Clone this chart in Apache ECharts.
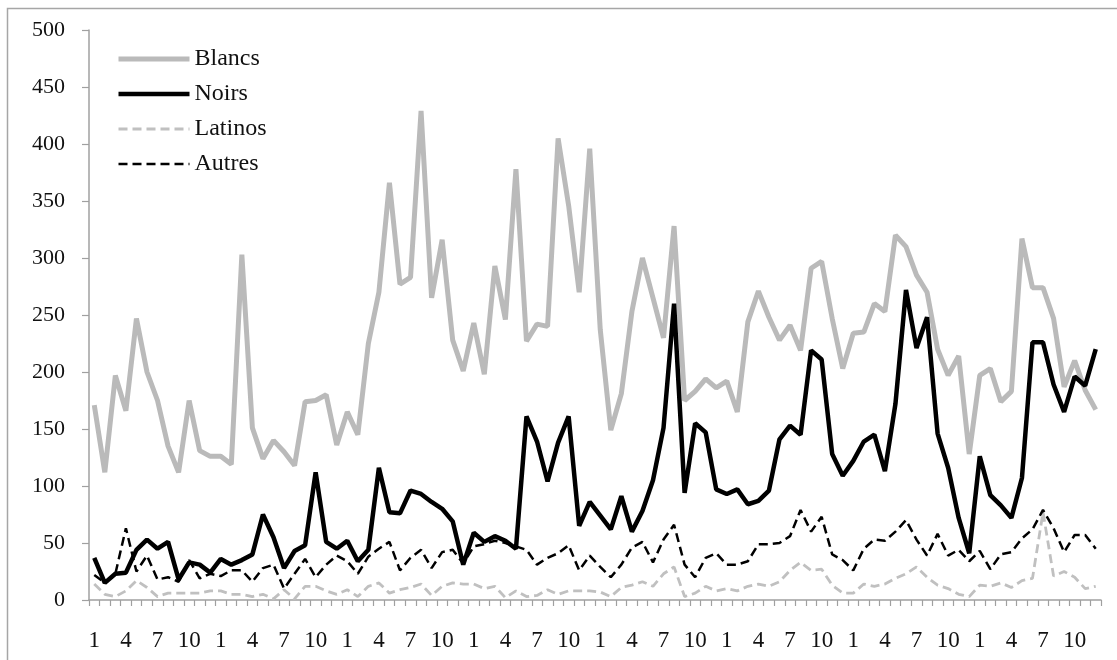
<!DOCTYPE html>
<html>
<head>
<meta charset="utf-8">
<script src="https://cdn.jsdelivr.net/npm/echarts@6/dist/echarts.min.js"></script>
<style>
  html, body { margin: 0; padding: 0; background: #fff; }
  #chart { width: 1117px; height: 660px; }
</style>
</head>
<body>
<div id="chart"></div>
<script>
  // mois 1..12 sur 8 ans
  var months = ['1','2','3','4','5','6','7','8','9','10','11','12']
  var categories = []
  for (var y = 0; y < 8; y++) {
    categories = categories.concat(months)
  }

  var blancs = [
    171, 112, 197, 166, 247, 200, 175, 135, 112, 175, 131, 126,
    126, 119, 303, 151, 124, 140, 130, 118, 174, 175, 180, 136,
    165, 145, 225, 270, 366, 277, 283, 429, 265, 316, 228, 201,
    243, 198, 293, 246, 378, 227, 242, 240, 405, 346, 270, 396,
    237, 149, 181, 253, 300, 265, 230, 328, 175, 183, 194, 186,
    192, 165, 244, 271, 248, 228, 241, 219, 291, 297, 247, 203,
    234, 235, 260, 253, 320, 310, 285, 270, 220, 197, 214, 128,
    197, 203, 174, 183, 317, 274, 274, 247, 187, 210, 184, 167
  ]
  var noirs = [
    37, 15, 23, 24, 44, 53, 45, 51, 18, 33, 31, 24,
    36, 31, 35, 40, 75, 55, 28, 43, 48, 112, 51, 45,
    52, 34, 44, 116, 77, 76, 96, 93, 86, 80, 69, 31,
    59, 51, 56, 52, 45, 161, 139, 104, 138, 161, 65, 86,
    74, 62, 91, 60, 78, 105, 151, 260, 94, 155, 147, 97,
    93, 97, 84, 87, 96, 141, 153, 145, 219, 211, 128, 109,
    122, 139, 145, 113, 172, 272, 221, 248, 146, 116, 72, 41,
    126, 92, 83, 72, 107, 226, 226, 189, 165, 196, 188, 220
  ]
  var latinos = [
    14, 5, 3, 8, 17, 11, 3, 6, 6, 6, 6, 8,
    8, 5, 5, 3, 5, 1, 9, 1, 12, 12, 8, 5,
    9, 3, 12, 15, 6, 9, 11, 14, 4, 12, 15, 14,
    14, 10, 12, 2, 8, 3, 4, 9, 5, 8, 8, 8,
    7, 3, 11, 13, 16, 12, 23, 29, 3, 6, 12, 8,
    10, 8, 12, 14, 12, 16, 26, 33, 26, 27, 13, 6,
    6, 14, 12, 14, 19, 23, 29, 20, 13, 10, 5, 3,
    13, 12, 15, 11, 17, 19, 77, 21, 25, 20, 10, 12
  ]
  var autres = [
    22, 15, 23, 63, 25, 39, 18, 20, 16, 35, 19, 23,
    21, 26, 26, 16, 28, 31, 10, 23, 36, 20, 31, 39,
    34, 23, 38, 45, 51, 26, 37, 44, 28, 42, 44, 32,
    47, 49, 52, 50, 47, 44, 31, 37, 41, 48, 26, 39,
    29, 20, 31, 46, 51, 33, 53, 66, 31, 20, 37, 41,
    31, 31, 34, 49, 49, 50, 56, 79, 60, 73, 40, 35,
    26, 45, 53, 52, 60, 70, 53, 39, 58, 39, 44, 34,
    43, 27, 40, 42, 54, 62, 79, 63, 42, 57, 57, 45
  ]

  var axisFont = 'Liberation Serif'

  var chart = echarts.init(document.getElementById('chart'))
  var option = {
    animation: false,
    backgroundColor: '#fff',
    graphic: [
      {
        type: 'rect',
        shape: { x: 7.5, y: 8.5, width: 1140, height: 700 },
        style: { fill: 'none', stroke: '#a6a6a6', lineWidth: 1.5 },
        silent: true
      }
    ],
    legend: {
      orient: 'vertical',
      left: 116,
      top: 47,
      padding: 0,
      itemWidth: 71,
      itemHeight: 14,
      itemGap: 11,
      data: ['Blancs', 'Noirs', 'Latinos', 'Autres'],
      itemStyle: { opacity: 0 },   // pas de cercle dans l'icone
      lineStyle: { width: 'inherit' },
      textStyle: {
        fontFamily: axisFont,
        fontSize: 24,
        lineHeight: 24,
        color: '#111'
      }
    },
    grid: {
      left: 89,
      right: 16,
      top: 30,
      bottom: 60,
      containLabel: false
    },
    xAxis: {
      type: 'category',
      data: categories,
      boundaryGap: true,
      axisLine: { lineStyle: { color: '#a0a0a0', width: 1.5 } },
      axisTick: { show: true, interval: 0, length: 6, lineStyle: { color: '#a0a0a0', width: 1.2 } },
      axisLabel: {
        interval: 2,
        margin: 29,
        fontFamily: axisFont,
        fontSize: 23,
        color: '#111'
      },
      splitLine: { show: false }
    },
    yAxis: {
      type: 'value',
      min: 0,
      max: 500,
      interval: 50,
      axisLine: { show: true, lineStyle: { color: '#a0a0a0', width: 1.5 } },
      axisTick: { show: true, length: 7, lineStyle: { color: '#a0a0a0', width: 1.2 } },
      axisLabel: {
        margin: 24,
        fontFamily: axisFont,
        fontSize: 22,
        color: '#111'
      },
      splitLine: { show: false }
    },
    series: [
      {
        name: 'Blancs',
        type: 'line',
        data: blancs,
        symbol: 'none',
        color: '#bababa',
        lineStyle: { color: '#bababa', width: 5 }
      },
      {
        name: 'Noirs',
        type: 'line',
        data: noirs,
        symbol: 'none',
        color: '#000',
        lineStyle: { color: '#000', width: 4.5 }
      },
      {
        name: 'Latinos',
        type: 'line',
        data: latinos,
        symbol: 'none',
        color: '#c0c0c0',
        lineStyle: { color: '#c0c0c0', width: 2.8, type: [9, 5] }
      },
      {
        name: 'Autres',
        type: 'line',
        data: autres,
        symbol: 'none',
        color: '#000',
        lineStyle: { color: '#000', width: 2.5, type: [9, 5] }
      }
    ]
  }
  chart.setOption(option)
</script>
</body>
</html>
